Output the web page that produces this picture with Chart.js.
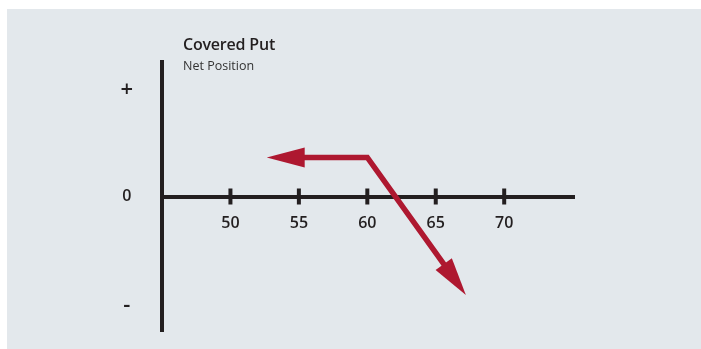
<!DOCTYPE html>
<html>
<head>
<meta charset="utf-8">
<script src="https://cdn.jsdelivr.net/npm/chart.js@4"></script>
<style>
  html, body { margin: 0; padding: 0; background: #ffffff; }
  #wrap { position: relative; width: 701px; height: 349px; overflow: hidden; }
  #panel { position: absolute; left: 7px; top: 9px; right: 0; bottom: 0; background: #e3e8ec; }
  #chart { position: absolute; left: 0; top: 0; }
  .title { position: absolute; left: 183px; top: 33px; font: 600 16px "Open Sans", sans-serif; color: #231f20; letter-spacing: -0.2px; }
  .subtitle { position: absolute; left: 183px; top: 57px; font: 400 12.5px "Open Sans", sans-serif; color: #333; }
</style>
</head>
<body>
<div id="wrap">
  <div id="panel"></div>
  <canvas id="chart" width="701" height="349"></canvas>
  <div class="title">Covered Put</div>
  <div class="subtitle">Net Position</div>
</div>
<script>
// Data (stock price vs net position)
const prices = [52.65, 60, 67.2];
const netPosition = [2, 2, -5.05];

// Axis ticks
const xTicks = [50, 55, 60, 65, 70];
const yTickValues = [-5.6, 0, 5.5];
const yTickLabels = ['-', '0', '+'];

const dark = '#231f20';
const red = '#ae1830';

// Arrowhead geometry (pixels)
const headLen = 38;
const headHalf = 10;

function arrowInfo(meta) {
    const pts = meta.data;
    const ends = [];
    if (pts.length < 2) return ends;
    ends.push({ tip: pts[0], from: pts[1] });
    ends.push({ tip: pts[pts.length - 1], from: pts[pts.length - 2] });
    return ends.map(e => {
        const dx = e.tip.x - e.from.x;
        const dy = e.tip.y - e.from.y;
        const len = Math.hypot(dx, dy);
        return { x: e.tip.x, y: e.tip.y, ux: dx / len, uy: dy / len };
    });
}

// Arrowheads drawn at the ends of the line, the line cut back under them
const arrowPlugin = {
    id: 'arrows',
    beforeDatasetsDraw(chart) {
        const ctx = chart.ctx;
        const meta = chart.getDatasetMeta(0);
        ctx.save();
        ctx.beginPath();
        ctx.rect(0, 0, chart.width, chart.height);
        arrowInfo(meta).forEach(a => {
            const px = -a.uy, py = a.ux;
            const bx = a.x - a.ux * (headLen - 4), by = a.y - a.uy * (headLen - 4);
            const fx = a.x + a.ux * 10, fy = a.y + a.uy * 10;
            ctx.moveTo(bx + px * 15, by + py * 15);
            ctx.lineTo(fx + px * 15, fy + py * 15);
            ctx.lineTo(fx - px * 15, fy - py * 15);
            ctx.lineTo(bx - px * 15, by - py * 15);
            ctx.closePath();
        });
        ctx.clip('evenodd');
    },
    afterDatasetsDraw(chart) {
        const ctx = chart.ctx;
        ctx.restore();
        const meta = chart.getDatasetMeta(0);
        ctx.save();
        ctx.fillStyle = red;
        arrowInfo(meta).forEach(a => {
            const px = -a.uy, py = a.ux;
            const bx = a.x - a.ux * headLen, by = a.y - a.uy * headLen;
            ctx.beginPath();
            ctx.moveTo(a.x, a.y);
            ctx.lineTo(bx + px * headHalf, by + py * headHalf);
            ctx.lineTo(bx - px * headHalf, by - py * headHalf);
            ctx.closePath();
            ctx.fill();
        });
        ctx.restore();
    }
};

// Tick marks crossing the x axis
const tickPlugin = {
    id: 'crossTicks',
    afterDraw(chart) {
        const ctx = chart.ctx;
        const xs = chart.scales.x;
        const y0 = chart.scales.y.getPixelForValue(0);
        ctx.save();
        ctx.strokeStyle = dark;
        ctx.lineWidth = 4;
        xTicks.forEach(v => {
            const x = xs.getPixelForValue(v);
            ctx.beginPath();
            ctx.moveTo(x, y0 - 8);
            ctx.lineTo(x, y0 + 8);
            ctx.stroke();
        });
        ctx.restore();
    }
};

const ctx = document.getElementById('chart').getContext('2d');
const chart = new Chart(ctx, {
    type: 'scatter',
    data: {
        datasets: [{
            data: prices.map((p, i) => ({ x: p, y: netPosition[i] })),
            showLine: true,
            borderColor: red,
            borderWidth: 5.5,
            borderCapStyle: 'butt',
            borderJoinStyle: 'miter',
            pointRadius: 0,
            tension: 0,
            clip: false
        }]
    },
    options: {
        responsive: false,
        animation: false,
        events: [],
        layout: { padding: { left: 0, right: 127, top: 62, bottom: 18 } },
        plugins: {
            legend: { display: false },
            tooltip: { enabled: false },
            title: { display: false }
        },
        scales: {
            x: {
                type: 'linear',
                position: { y: 0 },
                min: 45,
                max: 75.1,
                afterBuildTicks: s => { s.ticks = xTicks.map(v => ({ value: v })); },
                afterFit: s => { s.height = 0; s.paddingLeft = 0; s.paddingRight = 0; },
                grid: { display: true, drawOnChartArea: false, drawTicks: false },
                border: { display: true, color: dark, width: 4 },
                ticks: {
                    padding: 17,
                    color: dark,
                    font: { family: 'Open Sans', size: 16, weight: '600' },
                    callback: v => String(v)
                }
            },
            y: {
                type: 'linear',
                position: 'left',
                min: -6.9,
                max: 6.9,
                afterBuildTicks: s => { s.ticks = yTickValues.map(v => ({ value: v })); },
                afterFit: s => { s.width = 162; s.paddingTop = 0; s.paddingBottom = 0; },
                grid: { display: true, drawOnChartArea: false, drawTicks: false },
                border: { display: true, color: dark, width: 4 },
                ticks: {
                    padding: 29,
                    crossAlign: 'center',
                    color: dark,
                    font: c => {
                        const v = c.tick ? c.tick.value : 0;
                        return { family: 'Open Sans', size: v === 0 ? 16 : 22, weight: '600' };
                    },
                    callback: v => {
                        const i = yTickValues.indexOf(v);
                        return i >= 0 ? yTickLabels[i] : '';
                    }
                }
            }
        }
    },
    plugins: [arrowPlugin, tickPlugin]
});
</script>
</body>
</html>
